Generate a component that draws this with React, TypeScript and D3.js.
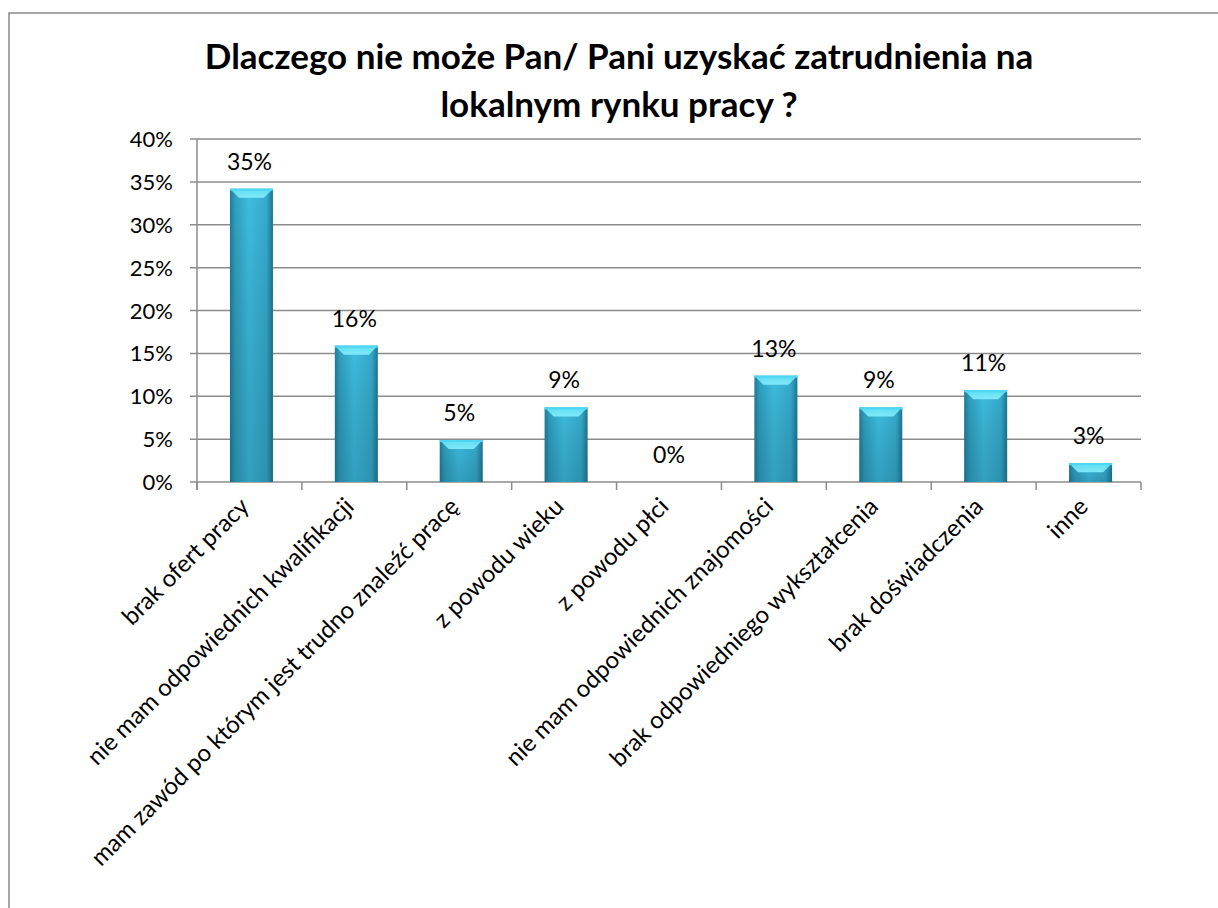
import React from 'react';
import * as d3 from 'd3';

const categories = [
  'brak ofert pracy',
  'nie mam odpowiednich kwalifikacji',
  'mam zawód po którym jest trudno znaleźć pracę',
  'z powodu wieku',
  'z powodu płci',
  'nie mam odpowiednich znajomości',
  'brak odpowiedniego wykształcenia',
  'brak doświadczenia',
  'inne',
];
const values = [34.2, 15.9, 4.9, 8.7, 0, 12.4, 8.7, 10.7, 2.2];
const valueLabels = ['35%', '16%', '5%', '9%', '0%', '13%', '9%', '11%', '3%'];
const yTicks = [0, 5, 10, 15, 20, 25, 30, 35, 40];
const titleLines = ['Dlaczego nie może Pan/ Pani uzyskać zatrudnienia na', 'lokalnym rynku pracy ?'];

const W = 1218;
const H = 908;
const left = 197;
const right = 1141;
const top = 139;
const bottom = 482;
const font = 'Lato, "Open Sans", sans-serif';
const grid = '#8c8c8c';

const App = () => {
  const x = d3.scaleBand().domain(categories).range([left, right]).paddingInner(0.59).paddingOuter(0.295);
  const step = x.step();
  const y = d3.scaleLinear().domain([0, 40]).range([bottom, top]);
  const bw = x.bandwidth();

  return (
    <svg width={W} height={H} style={{ position: 'absolute', left: 0, top: 0 }}>
      <defs>
        <linearGradient id="barH" x1="0" x2="1" y1="0" y2="0">
          <stop offset="0" stopColor="#1f7c98" />
          <stop offset="0.12" stopColor="#2f9fc0" />
          <stop offset="0.45" stopColor="#3ebde0" />
          <stop offset="0.85" stopColor="#36abcd" />
          <stop offset="1" stopColor="#1d7791" />
        </linearGradient>
        <linearGradient id="barV" x1="0" x2="0" y1="0" y2="1">
          <stop offset="0" stopColor="#000" stopOpacity="0" />
          <stop offset="1" stopColor="#0a3a4a" stopOpacity="0.22" />
        </linearGradient>
        <linearGradient id="cap" x1="0" x2="0" y1="0" y2="1">
          <stop offset="0" stopColor="#5fe3f7" />
          <stop offset="1" stopColor="#8aeefc" />
        </linearGradient>
      </defs>
      <rect x={0} y={0} width={W} height={H} fill="#fff" />
      <rect x={9} y={13} width={1400} height={1200} fill="none" stroke="#898989" strokeWidth={1.5} />

      {titleLines.map((t, i) => (
        <text key={i} x={619} y={69 + i * 48} textAnchor="middle" fontFamily={font} fontWeight="bold" fontSize={35} fill="#000">
          {t}
        </text>
      ))}

      {yTicks.map((t) => (
        <g key={t}>
          <line x1={190} x2={right} y1={y(t)} y2={y(t)} stroke={grid} strokeWidth={1.5} />
          <text x={173} y={y(t) + 8} textAnchor="end" fontFamily={font} fontSize={22} fill="#000">
            {t}%
          </text>
        </g>
      ))}
      <line x1={left} x2={left} y1={top} y2={bottom + 8} stroke={grid} strokeWidth={1.5} />
      {d3.range(categories.length + 1).map((i) => (
        <line key={i} x1={left + i * step} x2={left + i * step} y1={bottom} y2={bottom + 8} stroke={grid} strokeWidth={1.5} />
      ))}

      {categories.map((c, i) => {
        const x0 = (x(c) as number) + 2;
        const y0 = y(values[i]);
        const h = bottom - y0;
        const capH = Math.min(9, h);
        const cx = (x(c) as number) + bw / 2;
        return (
          <g key={c}>
            {h > 0 && (
              <>
                <rect x={x0} y={y0} width={bw} height={h} fill="url(#barH)" />
                <rect x={x0} y={y0} width={bw} height={h} fill="url(#barV)" />
                <path
                  d={`M${x0},${y0}H${x0 + bw}L${x0 + bw - 9},${y0 + capH}H${x0 + 9}Z`}
                  fill="url(#cap)"
                  opacity={0.9}
                />
                <rect x={x0} y={y0} width={bw} height={2} fill="#4fd6f2" />
              </>
            )}
            <text x={cx} y={y0 - 19} textAnchor="middle" fontFamily={font} fontSize={23} fill="#000">
              {valueLabels[i]}
            </text>
            <text
              transform={`translate(${cx + 1},${bottom + 26}) rotate(-45)`}
              textAnchor="end"
              fontFamily={font}
              fontSize={24}
              fill="#000"
            >
              {c}
            </text>
          </g>
        );
      })}
    </svg>
  );
};

export default App;
